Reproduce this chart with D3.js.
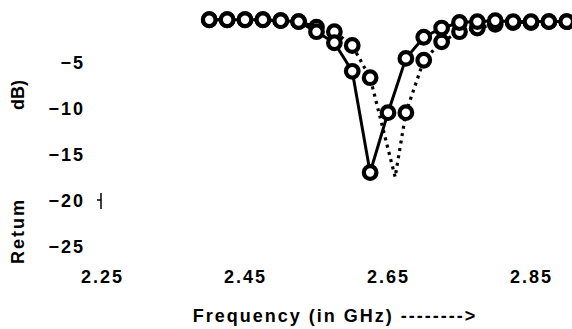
<!DOCTYPE html>
<html>
<head>
<meta charset="utf-8">
<script src="https://cdn.jsdelivr.net/npm/d3@7"></script>
<style>
  body { margin: 0; background: #fff; }
  svg text { font-family: "Liberation Sans", Arial, sans-serif; font-weight: bold; fill: #000; }
</style>
</head>
<body>
<div id="chart"></div>
<script>
// data
var freq = [2.40, 2.425, 2.45, 2.475, 2.50, 2.525, 2.55, 2.575, 2.60, 2.625, 2.65,
            2.675, 2.70, 2.725, 2.75, 2.775, 2.80, 2.825, 2.85, 2.875, 2.90];
var solidLoss = [-0.3, -0.3, -0.3, -0.3, -0.4, -0.5, -1.6, -2.8, -5.9, -16.9, -10.4,
                 -4.5, -2.2, -1.2, -0.6, -0.5, -0.4, -0.5, -0.5, -0.5, -0.5];
var dottedFreq = [2.40, 2.425, 2.45, 2.475, 2.50, 2.525, 2.55, 2.575, 2.60, 2.625, 2.66,
                  2.675, 2.70, 2.725, 2.75, 2.775, 2.80, 2.825, 2.85, 2.875, 2.90];
var dottedLoss = [-0.3, -0.3, -0.3, -0.3, -0.4, -0.5, -1.1, -1.6, -3.1, -6.6, -17.4,
                  -10.4, -4.7, -2.7, -1.6, -1.2, -0.8, -0.6, -0.6, -0.5, -0.5];
var dottedMarked = [1, 1, 1, 1, 1, 1, 1, 1, 1, 1, 0, 1, 1, 1, 1, 1, 1, 1, 1, 1, 1];
var xTicks = [2.25, 2.45, 2.65, 2.85];
var yTicks = [-5, -10, -15, -20, -25];

var width = 572, height = 329;

var svg = d3.select("#chart")
    .append("svg")
    .attr("width", width)
    .attr("height", height);

var x = d3.scaleLinear()
    .domain([2.25, 2.85])
    .range([102, 531]);

var y = d3.scaleLinear()
    .domain([0, -25])
    .range([17, 247]);

// x axis: labels only
var xAxis = svg.append("g")
    .attr("transform", "translate(0,262)")
    .call(d3.axisBottom(x).tickValues(xTicks).tickSize(0).tickPadding(8).tickFormat(d3.format(".2f")));
xAxis.select(".domain").remove();
xAxis.selectAll("text")
    .style("font-size", "18px")
    .style("letter-spacing", "2px")
    .attr("font-family", null);

// y axis: labels only
var yAxis = svg.append("g")
    .attr("transform", "translate(85,0)")
    .call(d3.axisLeft(y).tickValues(yTicks).tickSize(0).tickPadding(0));
yAxis.select(".domain").remove();
yAxis.selectAll("text")
    .style("font-size", "18px")
    .style("letter-spacing", "2px")
    .attr("font-family", null);

// the little stub left of the axis near -20
svg.append("line")
    .attr("x1", 101).attr("x2", 101)
    .attr("y1", y(-20) - 8).attr("y2", y(-20) + 8)
    .attr("stroke", "#000").attr("stroke-width", 1.5);
svg.append("line")
    .attr("x1", 97).attr("x2", 101)
    .attr("y1", y(-20) - 1).attr("y2", y(-20) - 1)
    .attr("stroke", "#000").attr("stroke-width", 1.5);

// axis titles
svg.append("text")
    .attr("text-anchor", "middle")
    .attr("x", 335)
    .attr("y", 322)
    .style("font-size", "18px")
    .style("letter-spacing", "2px")
    .text("Frequency (in GHz) -------->");

svg.append("text")
    .attr("transform", "translate(24,231) rotate(-90)")
    .attr("text-anchor", "middle")
    .style("font-size", "18px")
    .style("letter-spacing", "2px")
    .text("Retum");

svg.append("text")
    .attr("transform", "translate(24,95) rotate(-90)")
    .attr("text-anchor", "middle")
    .style("font-size", "18px")
    .text("dB)");

// lines
var solidData = freq.map(function(f, i) { return {f: f, v: solidLoss[i]}; });
var dottedData = dottedFreq.map(function(f, i) { return {f: f, v: dottedLoss[i], m: dottedMarked[i]}; });

var line = d3.line()
    .x(function(d) { return x(d.f); })
    .y(function(d) { return y(d.v); });

svg.append("path")
    .datum(dottedData)
    .attr("d", line)
    .attr("fill", "none")
    .attr("stroke", "#000")
    .attr("stroke-width", 3.2)
    .attr("stroke-dasharray", "3,4.5");

svg.append("path")
    .datum(solidData)
    .attr("d", line)
    .attr("fill", "none")
    .attr("stroke", "#000")
    .attr("stroke-width", 3);

// markers
svg.selectAll(".dotMark")
    .data(dottedData.filter(function(d) { return d.m; }))
    .enter()
    .append("circle")
    .attr("class", "dotMark")
    .attr("cx", function(d) { return x(d.f); })
    .attr("cy", function(d) { return y(d.v); })
    .attr("r", 6.3)
    .attr("fill", "#fff")
    .attr("stroke", "#000")
    .attr("stroke-width", 4.2);

svg.selectAll(".solidMark")
    .data(solidData)
    .enter()
    .append("circle")
    .attr("class", "solidMark")
    .attr("cx", function(d) { return x(d.f); })
    .attr("cy", function(d) { return y(d.v); })
    .attr("r", 6.3)
    .attr("fill", "#fff")
    .attr("stroke", "#000")
    .attr("stroke-width", 4.2);
</script>
</body>
</html>
